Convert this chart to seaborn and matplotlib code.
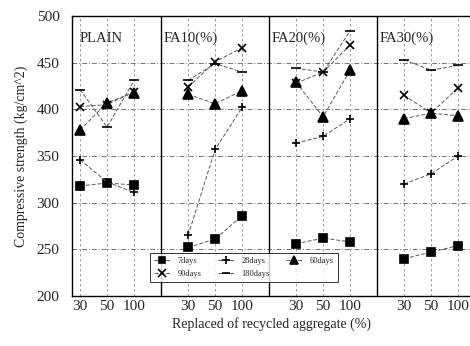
import numpy as np
import pandas as pd
import seaborn as sns
import matplotlib
matplotlib.use("Agg")
import matplotlib.pyplot as plt
from matplotlib.lines import Line2D

groups = ["PLAIN", "FA10(%)", "FA20(%)", "FA30(%)"]
replace_labels = ["30", "50", "100"]
series_names = ["7days", "28days", "60days", "90days", "180days"]

d7 = [318, 321, 319, 252, 261, 286, 256, 262, 258, 240, 247, 254]
d28 = [346, 322, 311, 265, 357, 402, 364, 371, 390, 320, 331, 350]
d60 = [378, 407, 418, 416, 406, 420, 429, 392, 442, 390, 396, 393]
d90 = [403, 405, 419, 424, 451, 466, 428, 440, 469, 415, 396, 423]
d180 = [421, 381, 431, 431, 449, 440, 444, 440, 484, 453, 442, 447]
values = [d7, d28, d60, d90, d180]

markers = {"7days": "s", "28days": "+", "60days": "^", "90days": "x", "180days": "_"}
msizes = {"7days": 5.5, "28days": 6, "60days": 7, "90days": 6, "180days": 7}

rows = []
for name, vals in zip(series_names, values):
    for gi, g in enumerate(groups):
        for ri, r in enumerate(replace_labels):
            rows.append({"series": name, "group": g, "gi": gi, "pos": gi * 4 + ri,
                         "value": vals[gi * 3 + ri]})
df = pd.DataFrame(rows)

sns.set_style("white")
plt.rcParams["font.family"] = ["Liberation Serif", "DejaVu Serif"]

fig = plt.figure(figsize=(4.7, 3.46), dpi=100)
ax = fig.add_axes([72 / 470, 1 - 296 / 346, 398 / 470, 280 / 346])

# grid
for yv in [250, 300, 350, 400, 450]:
    ax.axhline(yv, color="0.45", lw=0.7, ls=(0, (5, 2, 1, 2)), zorder=0)
for p in sorted(df["pos"].unique()):
    ax.axvline(p, color="0.55", lw=0.6, ls=(0, (3, 3)), zorder=0)
for sep in [3, 7, 11]:
    ax.axvline(sep, color="black", lw=1.0, zorder=1)

for name in series_names:
    sub = df[df["series"] == name]
    sns.lineplot(data=sub, x="pos", y="value", units="gi", estimator=None, ax=ax,
                 color="0.35", lw=0.7, linestyle=(0, (4, 2)),
                 marker=markers[name], markersize=msizes[name],
                 markerfacecolor="black", markeredgecolor="black",
                 markeredgewidth=1.2, legend=False, zorder=3)

ax.set_xlim(-0.3, 14.44)
ax.set_ylim(200, 500)
ax.set_yticks([200, 250, 300, 350, 400, 450, 500])
ax.set_xticks([gi * 4 + ri for gi in range(4) for ri in range(3)])
ax.set_xticklabels(replace_labels * 4)
ax.tick_params(axis="both", direction="in", length=4, labelsize=11, width=0.8)
ax.tick_params(axis="x", pad=3)
ax.tick_params(axis="y", pad=9)
ax.set_xlabel("Replaced of recycled aggregate (%)", fontsize=10, labelpad=3)
ax.set_ylabel("Compressive strength (kg/cm^2)", fontsize=10, labelpad=6)

for s in ["left", "bottom", "top"]:
    ax.spines[s].set_color("black")
    ax.spines[s].set_linewidth(1.0)
ax.spines["right"].set_visible(False)

for gi, g in enumerate(groups):
    xl = 0.0 if gi == 0 else gi * 4 - 0.9
    ax.text(xl, 483, g, fontsize=10.5, va="top", ha="left")

handles = []
for name in ["7days", "90days", "28days", "180days", "60days"]:
    handles.append(Line2D([0], [0], color="0.35", lw=0.7, linestyle=(0, (4, 2)),
                          marker=markers[name], markersize=msizes[name] * 0.9,
                          markerfacecolor="black", markeredgecolor="black",
                          markeredgewidth=1.2, label=name))
leg = ax.legend(handles=handles, ncol=3, loc="lower left",
                bbox_to_anchor=(0.185, 0.035), fontsize=6, frameon=True,
                fancybox=False, edgecolor="black", borderpad=0.5,
                columnspacing=2.0, handlelength=2.0, labelspacing=0.6)
leg.get_frame().set_linewidth(0.7)
leg.set_zorder(5)

fig.savefig("out.png", dpi=100)
